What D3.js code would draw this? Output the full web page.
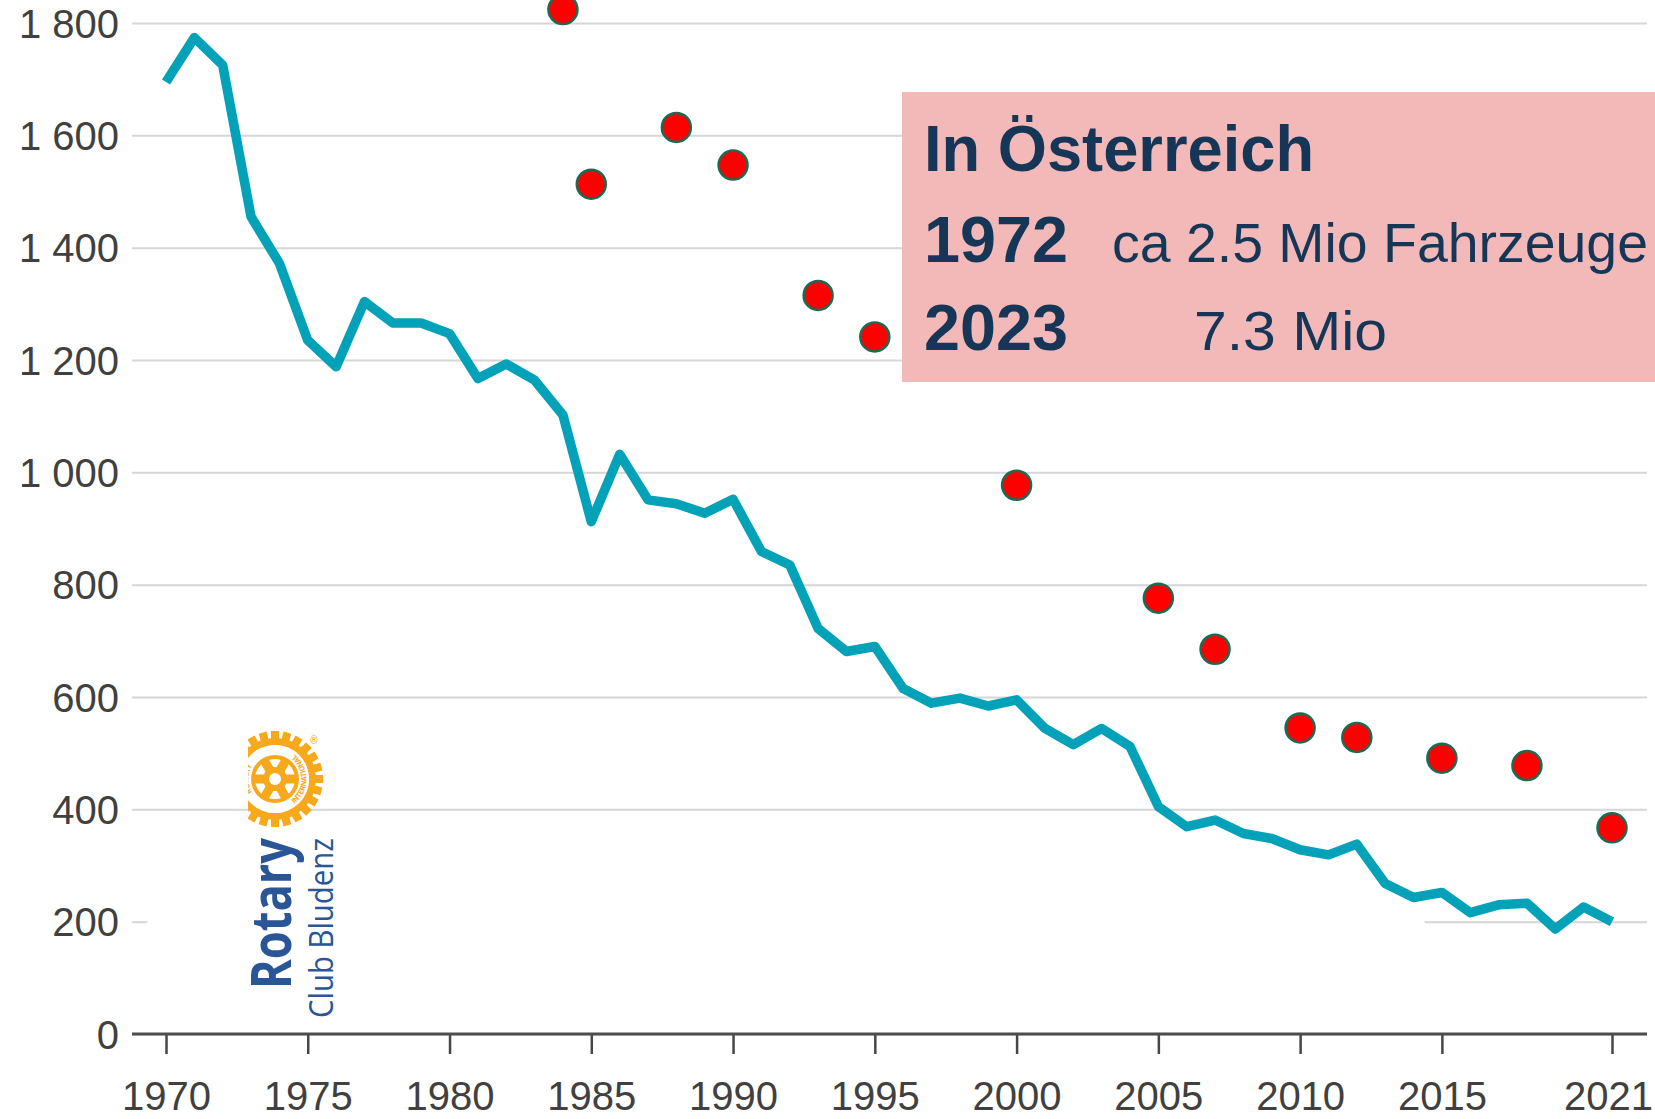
<!DOCTYPE html>
<html>
<head>
<meta charset="utf-8">
<script src="https://cdn.jsdelivr.net/npm/d3@7"></script>
<style>
    body { margin: 0; background: #fff; }
    #chart { width: 1655px; height: 1119px; overflow: hidden; }
</style>
</head>
<body>
<div id="chart"></div>
<script>
// road fatalities in Austria per year (teal line)
const years = [1970, 1971, 1972, 1973, 1974, 1975, 1976, 1977, 1978, 1979,
    1980, 1981, 1982, 1983, 1984, 1985, 1986, 1987, 1988, 1989,
    1990, 1991, 1992, 1993, 1994, 1995, 1996, 1997, 1998, 1999,
    2000, 2001, 2002, 2003, 2004, 2005, 2006, 2007, 2008, 2009,
    2010, 2011, 2012, 2013, 2014, 2015, 2016, 2017, 2018, 2019,
    2020, 2021];
const fatalities = [1695, 1774, 1725, 1455, 1372, 1235, 1188, 1304, 1266, 1266,
    1247, 1167, 1193, 1164, 1102, 912, 1032, 951, 944, 927,
    952, 859, 835, 722, 681, 690, 615, 589, 598, 584,
    595, 544, 515, 544, 512, 405, 369, 381, 357, 348,
    328, 319, 338, 268, 243, 252, 216, 230, 233, 187,
    226, 200];

// red markers
const dotYears = [1984, 1985, 1988, 1990, 1993, 1995, 2000, 2005, 2007, 2010, 2012, 2015, 2018, 2021];
const dotValues = [1824, 1513, 1614, 1547, 1315, 1241, 977, 776, 685, 545, 528, 491, 478, 367];

// axis ticks
const xTicks = [1970, 1975, 1980, 1985, 1990, 1995, 2000, 2005, 2010, 2015, 2021];
const yTicks = [0, 200, 400, 600, 800, 1000, 1200, 1400, 1600, 1800];

// info box text
const infoTitle = "In Österreich";
const infoYears = ["1972", "2023"];
const infoValues = ["ca 2.5 Mio Fahrzeuge", "7.3 Mio"];

class LineVis {
    constructor(element) {
        this.element = element;
        this.initVis();
    }

    initVis() {
        const vis = this;

        vis.width = 1655;
        vis.height = 1119;
        vis.plotLeft = 132;
        vis.plotRight = 1647;

        vis.svg = d3.select("#" + vis.element)
            .append("svg")
            .attr("width", vis.width)
            .attr("height", vis.height)
            .style("font-family", "Roboto, sans-serif");

        vis.svg.append("rect")
            .attr("width", vis.width)
            .attr("height", vis.height)
            .attr("fill", "#fff");

        vis.x = d3.scaleLinear().domain([1970, 2021]).range([166, 1612]);
        vis.y = d3.scaleLinear().domain([0, 1800]).range([1034, 23]);

        const fmt = d3.formatLocale({ decimal: ",", thousands: " ", grouping: [3], currency: ["", ""] }).format(",");

        // gridlines + y labels
        const yAxis = d3.axisLeft(vis.y)
            .tickValues(yTicks)
            .tickSize(-(vis.plotRight - vis.plotLeft))
            .tickPadding(13)
            .tickFormat(fmt);

        const gy = vis.svg.append("g")
            .attr("transform", `translate(${vis.plotLeft},0)`)
            .call(yAxis);
        gy.select(".domain").remove();
        gy.selectAll("line").attr("stroke", "#d6d6d6").attr("stroke-width", 2);
        gy.selectAll("text")
            .attr("fill", "#404040")
            .attr("dy", "0.355em")
            .style("font-size", "40px");

        // white patch that hides the 200 gridline in the original
        vis.svg.append("rect")
            .attr("x", 145)
            .attr("y", vis.y(200) - 3)
            .attr("width", 1282)
            .attr("height", vis.y(0) - vis.y(200))
            .attr("rx", 10)
            .attr("fill", "#fff");

        // x axis
        const xAxis = d3.axisBottom(vis.x)
            .tickValues(xTicks)
            .tickSize(20)
            .tickSizeOuter(0)
            .tickPadding(28)
            .tickFormat(d3.format("d"));

        const gx = vis.svg.append("g")
            .attr("transform", `translate(0,${vis.y(0)})`)
            .call(xAxis);
        gx.select(".domain").remove();
        gx.selectAll("line").attr("stroke", "#474747").attr("stroke-width", 2.5);
        gx.selectAll("text")
            .attr("fill", "#404040")
            .attr("dx", d => d === 2021 ? -4 : 0)
            .style("font-size", "40px");
        gx.append("line")
            .attr("x1", vis.plotLeft)
            .attr("x2", vis.plotRight)
            .attr("stroke", "#4d4d4d")
            .attr("stroke-width", 3);

        // teal line
        const line = d3.line()
            .x((d, i) => vis.x(years[i]))
            .y(d => vis.y(d));

        vis.svg.append("path")
            .datum(fatalities)
            .attr("d", line)
            .attr("fill", "none")
            .attr("stroke", "#03a2b8")
            .attr("stroke-width", 9.5)
            .attr("stroke-linejoin", "round");

        // red dots
        vis.svg.selectAll(".dot")
            .data(dotValues)
            .enter().append("circle")
            .attr("class", "dot")
            .attr("cx", (d, i) => vis.x(dotYears[i]))
            .attr("cy", d => vis.y(d))
            .attr("r", 14.5)
            .attr("fill", "#ff0000")
            .attr("stroke", "#186c55")
            .attr("stroke-width", 2.5);

        vis.addLogo();
        vis.addInfoBox();
    }

    addLogo() {
        const vis = this;
        const yellow = "#f7a81b";
        const blue = "#2a5597";

        vis.svg.append("defs")
            .append("clipPath")
            .attr("id", "logo-clip")
            .append("rect")
            .attr("x", 248).attr("y", 700)
            .attr("width", 120).attr("height", 340);

        const logo = vis.svg.append("g").attr("clip-path", "url(#logo-clip)");
        const wheel = logo.append("g")
            .attr("transform", "translate(275,779) rotate(-90)");

        // teeth
        wheel.selectAll(".tooth")
            .data(d3.range(24))
            .enter().append("rect")
            .attr("x", -4).attr("y", -48)
            .attr("width", 8).attr("height", 9)
            .attr("transform", d => `rotate(${d * 15})`)
            .attr("fill", yellow);

        wheel.append("path")
            .attr("d", d3.arc()({ innerRadius: 34, outerRadius: 41, startAngle: 0, endAngle: 2 * Math.PI }))
            .attr("fill", yellow);
        wheel.append("circle").attr("r", 34).attr("fill", "#fff");
        wheel.append("path")
            .attr("d", d3.arc()({ innerRadius: 20, outerRadius: 24, startAngle: 0, endAngle: 2 * Math.PI }))
            .attr("fill", yellow);

        // spokes
        wheel.selectAll(".spoke")
            .data([30, 90, 150])
            .enter().append("rect")
            .attr("x", -22).attr("y", -4.5)
            .attr("width", 44).attr("height", 9)
            .attr("transform", d => `rotate(${d})`)
            .attr("fill", yellow);
        wheel.append("circle").attr("r", 12).attr("fill", yellow);
        wheel.append("circle").attr("r", 6).attr("fill", "#fff");

        // band lettering
        const defs = vis.svg.select("defs");
        defs.append("path").attr("id", "arc-bottom").attr("d", "M -31.5 0 A 31.5 31.5 0 0 0 31.5 0");
        defs.append("path").attr("id", "arc-top").attr("d", "M -26.5 0 A 26.5 26.5 0 0 1 26.5 0");
        wheel.append("text")
            .style("font-size", "7.5px").style("font-weight", "bold").attr("fill", yellow)
            .append("textPath").attr("href", "#arc-bottom")
            .attr("startOffset", "50%").attr("text-anchor", "middle")
            .text("INTERNATIONAL");
        wheel.append("text")
            .style("font-size", "7.5px").style("font-weight", "bold").attr("fill", yellow)
            .append("textPath").attr("href", "#arc-top")
            .attr("startOffset", "50%").attr("text-anchor", "middle")
            .text("ROTARY");

        logo.append("text")
            .attr("x", 310).attr("y", 744)
            .style("font-size", "10px")
            .attr("fill", yellow)
            .text("®");

        logo.append("text")
            .attr("transform", "translate(291,989) rotate(-90)")
            .attr("textLength", 151)
            .attr("lengthAdjust", "spacingAndGlyphs")
            .style("font-family", "'Open Sans', sans-serif")
            .style("font-weight", "bold")
            .style("font-size", "56px")
            .attr("fill", blue)
            .text("Rotary");

        logo.append("text")
            .attr("transform", "translate(333,1018) rotate(-90)")
            .attr("textLength", 180)
            .attr("lengthAdjust", "spacingAndGlyphs")
            .style("font-family", "'Open Sans', sans-serif")
            .style("font-size", "33px")
            .attr("fill", blue)
            .text("Club Bludenz");
    }

    addInfoBox() {
        const vis = this;
        const navy = "#163657";

        const box = vis.svg.append("g")
            .style("font-family", "'Liberation Sans', Arial, sans-serif")
            .attr("fill", navy);

        box.append("rect")
            .attr("x", 902).attr("y", 92)
            .attr("width", 760).attr("height", 290)
            .attr("fill", "#f2b9b8");

        box.append("text")
            .attr("x", 924).attr("y", 171)
            .attr("textLength", 390)
            .attr("lengthAdjust", "spacingAndGlyphs")
            .style("font-weight", "bold")
            .style("font-size", "65px")
            .text(infoTitle);

        const rowY = [262, 350];
        const valueX = [1112, 1194];
        const valueW = [536, 193];

        box.selectAll(".info-year")
            .data(infoYears)
            .enter().append("text")
            .attr("class", "info-year")
            .attr("x", 924)
            .attr("y", (d, i) => rowY[i])
            .attr("textLength", 144)
            .attr("lengthAdjust", "spacingAndGlyphs")
            .style("font-weight", "bold")
            .style("font-size", "65px")
            .text(d => d);

        box.selectAll(".info-value")
            .data(infoValues)
            .enter().append("text")
            .attr("class", "info-value")
            .attr("x", (d, i) => valueX[i])
            .attr("y", (d, i) => rowY[i])
            .attr("textLength", (d, i) => valueW[i])
            .attr("lengthAdjust", "spacingAndGlyphs")
            .style("font-size", "55px")
            .text(d => d);
    }
}

new LineVis("chart");
</script>
</body>
</html>
